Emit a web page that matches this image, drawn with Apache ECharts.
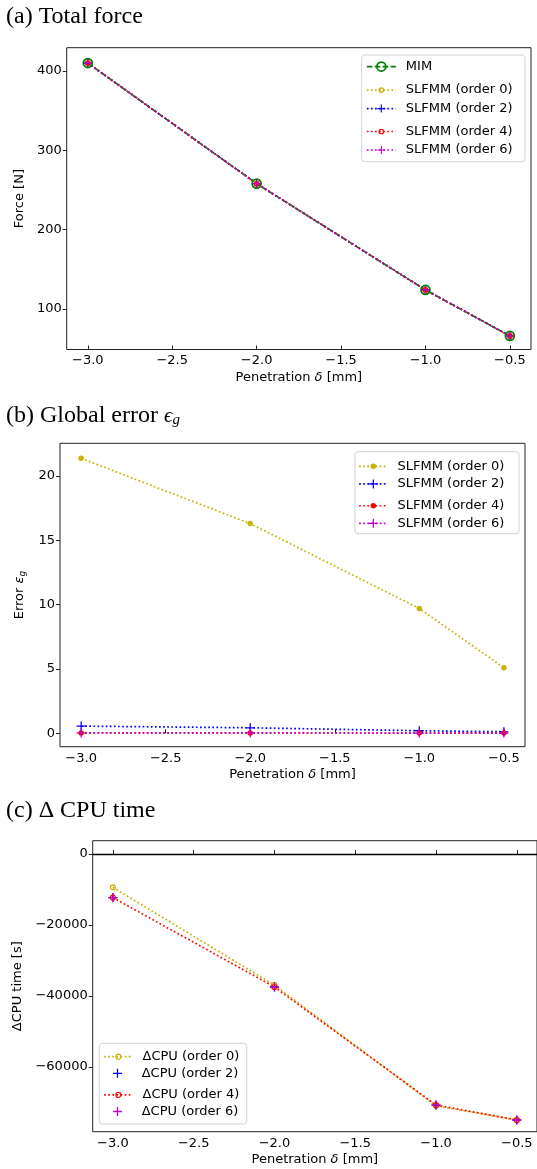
<!DOCTYPE html>
<html><head><meta charset="utf-8">
<script src="https://cdn.jsdelivr.net/npm/echarts@6/dist/echarts.min.js"></script>
<style>html,body{margin:0;padding:0;background:#fff;overflow:hidden}#c{width:537px;height:1169px}</style>
</head><body><div id="c"></div>
<script>
// ---------- data ----------
const penetration = [-3.0, -2.0, -1.0, -0.5];
const xTickValues = [-3.0, -2.5, -2.0, -1.5, -1.0, -0.5];
const forceMIM    = [410, 258, 124, 66];
const forceOrder0 = [410, 258, 124, 66];
const forceOrder2 = [410, 258, 124, 66];
const forceOrder4 = [410, 258, 124, 66];
const forceOrder6 = [410, 258, 124, 66];
const forceTicks  = [100, 200, 300, 400];
const errOrder0 = [21.37, 16.3, 9.7, 5.1];
const errOrder2 = [0.56, 0.43, 0.2, 0.12];
const errOrder4 = [0.03, 0.03, 0.02, 0.02];
const errOrder6 = [0.03, 0.03, 0.02, 0.02];
const errTicks  = [0, 5, 10, 15, 20];
const cpuOrder0 = [-9400, -37000, -71000, -75000];
const cpuOrder2 = [-12300, -37500, -70800, -75000];
const cpuOrder4 = [-12300, -37500, -70800, -75000];
const cpuOrder6 = [-12300, -37500, -70800, -75000];
const cpuTicks  = [0, -20000, -40000, -60000];
const labelsA = ['MIM', 'SLFMM (order 0)', 'SLFMM (order 2)', 'SLFMM (order 4)', 'SLFMM (order 6)'];
const labelsB = ['SLFMM (order 0)', 'SLFMM (order 2)', 'SLFMM (order 4)', 'SLFMM (order 6)'];
const labelsC = ['ΔCPU (order 0)', 'ΔCPU (order 2)', 'ΔCPU (order 4)', 'ΔCPU (order 6)'];

// ---------- styling ----------
const SANS = 'DejaVu Sans';
const SERIF = 'Liberation Serif';
const C_GREEN = '#008000', C_GOLD = '#c8b200', C_BLUE = '#0000ff', C_RED = '#ff0000', C_MAG = '#c000c0';
const PLUS = 'path://M-1,-0.14 L-0.14,-0.14 L-0.14,-1 L0.14,-1 L0.14,-0.14 L1,-0.14 L1,0.14 L0.14,0.14 L0.14,1 L-0.14,1 L-0.14,0.14 L-1,0.14 Z';
const DOT = [1.7, 2.4];
const DASH = [5.5, 2.4];
const LW = 1.7;
const minus = s => String(s).replace('-', '\u2212');
const pairs = (xs, ys) => xs.map((x, i) => [x, ys[i]]);

const grids = [
  {left: 66.7, top: 47.7, width: 464.3, height: 301.8},
  {left: 60, top: 443.3, width: 465, height: 303.4},
  {left: 92.7, top: 840.7, width: 448.8, height: 291}
].map(g => Object.assign({show: true, borderColor: '#222', borderWidth: 1, backgroundColor: 'transparent'}, g));

function xAxisFor(i, nameGap) {
  return {
    type: 'value', gridIndex: i, min: -3.125, max: -0.375,
    name: 'Penetration {d|δ} [mm]', nameLocation: 'middle', nameGap: nameGap,
    nameTextStyle: {fontFamily: SANS, fontSize: 13, color: '#000',
      rich: {d: {fontFamily: SANS, fontStyle: 'italic', fontSize: 13, color: '#000'}}},
    axisLine: {show: false},
    splitLine: {show: false},
    axisTick: {show: true, inside: true, length: 4, lineStyle: {color: '#222'}, customValues: xTickValues},
    axisLabel: {show: true, margin: 5, fontFamily: SANS, fontSize: 13, color: '#000',
      customValues: xTickValues, formatter: v => minus(Number(v).toFixed(1))}
  };
}
function yAxisFor(i, min, max, ticks, name, nameGap, rich) {
  return {
    type: 'value', gridIndex: i, min: min, max: max,
    name: name, nameLocation: 'middle', nameGap: nameGap, nameRotate: 90,
    nameTextStyle: {fontFamily: SANS, fontSize: 13, color: '#000', rich: rich || {}},
    axisLine: {show: false},
    splitLine: {show: false},
    axisTick: {show: true, inside: false, length: 4, lineStyle: {color: '#222'}, customValues: ticks},
    axisLabel: {show: true, margin: 5, fontFamily: SANS, fontSize: 13, color: '#000',
      customValues: ticks, formatter: v => minus(v)}
  };
}

function lineSeries(name, gi, ys, o) {
  return {
    type: 'line', name: name, xAxisIndex: gi, yAxisIndex: gi,
    data: pairs(penetration, ys), symbol: o.symbol, symbolSize: o.size,
    showSymbol: true, animation: false, silent: true, z: o.z || 2,
    lineStyle: {color: o.color, width: o.noLine ? 0 : LW, type: o.dash || 'solid', opacity: o.noLine ? 0 : 1},
    itemStyle: o.hollow
      ? {color: 'rgba(255,255,255,0)', borderColor: o.color, borderWidth: o.bw || 1.2}
      : {color: o.color, borderWidth: 0},
    emphasis: {disabled: true}
  };
}

const series = [
  // panel (a)
  lineSeries(labelsA[0], 0, forceMIM, {color: C_GREEN, dash: DASH, symbol: 'circle', size: 9, hollow: true, bw: 1.7}),
  lineSeries(labelsA[1], 0, forceOrder0, {color: C_GOLD, dash: DOT, symbol: 'circle', size: 4.5, hollow: true}),
  lineSeries(labelsA[2], 0, forceOrder2, {color: C_BLUE, dash: DOT, symbol: PLUS, size: 8}),
  lineSeries(labelsA[3], 0, forceOrder4, {color: C_RED, dash: DOT, symbol: 'circle', size: 4.5, hollow: true}),
  lineSeries(labelsA[4], 0, forceOrder6, {color: C_MAG, dash: DOT, symbol: PLUS, size: 8}),
  // panel (b)
  lineSeries(labelsB[0] + '\u200b', 1, errOrder0, {color: C_GOLD, dash: DOT, symbol: 'circle', size: 5.5}),
  lineSeries(labelsB[1] + '\u200b', 1, errOrder2, {color: C_BLUE, dash: DOT, symbol: PLUS, size: 9}),
  lineSeries(labelsB[2] + '\u200b', 1, errOrder4, {color: C_RED, dash: DOT, symbol: 'circle', size: 5.5}),
  lineSeries(labelsB[3] + '\u200b', 1, errOrder6, {color: C_MAG, dash: DOT, symbol: PLUS, size: 9}),
  // panel (c)
  lineSeries(labelsC[0], 2, cpuOrder0, {color: C_GOLD, dash: DOT, symbol: 'circle', size: 5, hollow: true}),
  lineSeries(labelsC[1], 2, cpuOrder2, {color: C_BLUE, noLine: true, symbol: PLUS, size: 9}),
  lineSeries(labelsC[2], 2, cpuOrder4, {color: C_RED, dash: DOT, symbol: 'circle', size: 5, hollow: true}),
  lineSeries(labelsC[3], 2, cpuOrder6, {color: C_MAG, noLine: true, symbol: PLUS, size: 9})
];
// zero reference line in (c)
series[9].markLine = {silent: true, symbol: 'none', animation: false, label: {show: false},
  lineStyle: {color: '#000', type: 'solid', width: 1.3}, data: [{yAxis: 0}], z: 1};

// one legend component per entry so each icon can have its own marker size
function legendEntry(name, left, yc, iconW, iconH, lineW, borderW) {
  return {
    data: [name], left: left, top: yc - iconH / 2, orient: 'vertical', padding: 0,
    itemWidth: iconW, itemHeight: iconH, selectedMode: false, z: 10,
    textStyle: {fontFamily: SANS, fontSize: 13, color: '#000', padding: [0, 0, 0, 5]},
    lineStyle: {width: lineW},
    itemStyle: {borderWidth: borderW}
  };
}
const legends = [];
const rowsA = [65.7, 86.4, 107.1, 127.8, 148.5];
const iconHA = [11.2, 5.6, 10, 5.6, 10];
const bwA = [1.7, 1.2, 0, 1.2, 0];
labelsA.forEach((n, i) => legends.push(legendEntry(n, 366, rowsA[i], 29, iconHA[i], LW, bwA[i])));
const rowsB = [463.3, 483, 502.7, 522.4];
const iconHB = [6.9, 11.2, 6.9, 11.2];
labelsB.forEach((n, i) => legends.push(legendEntry(n + '\u200b', 358.3, rowsB[i], 28.4, iconHB[i], LW, 0)));
const rowsC = [1053.3, 1072.4, 1091.5, 1110.6];
const iconHC = [6.2, 11.2, 6.2, 11.2];
const lineC = [LW, 0, LW, 0];
const bwC = [1.2, 0, 1.2, 0];
labelsC.forEach((n, i) => legends.push(legendEntry(n, 103.3, rowsC[i], 28.4, iconHC[i], lineC[i], bwC[i])));

const titleStyle = {fontFamily: SERIF, fontSize: 24, fontWeight: 'normal', color: '#000'};
const option = {
  animation: false,
  backgroundColor: '#fff',
  title: [
    {text: '(a) Total force', left: 6, top: 5, padding: 0, textStyle: titleStyle},
    {text: '(b) Global error {e|ϵ}{s|g}', left: 6, top: 404, padding: 0,
      textStyle: Object.assign({}, titleStyle, {rich: {
        e: {fontFamily: SERIF, fontStyle: 'italic', fontSize: 21, color: '#000'},
        s: {fontFamily: SERIF, fontStyle: 'italic', fontSize: 15, color: '#000', verticalAlign: 'bottom', padding: [9, 0, 0, 0]}}})},
    {text: '(c) Δ CPU time', left: 6, top: 799, padding: 0, textStyle: titleStyle}
  ],
  grid: grids,
  xAxis: [xAxisFor(0, 21.5), xAxisFor(1, 21.5), xAxisFor(2, 21.8)],
  yAxis: [
    yAxisFor(0, 48.9, 429.4, forceTicks, 'Force [N]', 33),
    yAxisFor(1, -1.04, 22.54, errTicks, 'Error {e|ε}{s|g}', 25, {
      e: {fontFamily: SANS, fontStyle: 'italic', fontSize: 13, color: '#000'},
      s: {fontFamily: SANS, fontStyle: 'italic', fontSize: 9, color: '#000', verticalAlign: 'bottom', padding: [6, 0, 0, 0]}}),
    yAxisFor(2, -78300, 3750, cpuTicks, 'ΔCPU time [s]', 57)
  ],
  legend: legends,
  graphic: [
    {type: 'rect', shape: {x: 361.7, y: 55, width: 163.3, height: 106.7, r: 3}, z: 5,
      style: {fill: 'rgba(255,255,255,0.8)', stroke: '#d3d3d3', lineWidth: 1}},
    {type: 'rect', shape: {x: 355, y: 451.7, width: 164, height: 82, r: 3}, z: 5,
      style: {fill: 'rgba(255,255,255,0.8)', stroke: '#d3d3d3', lineWidth: 1}},
    {type: 'rect', shape: {x: 99.3, y: 1043.3, width: 147.4, height: 80.7, r: 3}, z: 5,
      style: {fill: 'rgba(255,255,255,0.8)', stroke: '#d3d3d3', lineWidth: 1}}
  ],
  series: series
};
const chart = echarts.init(document.getElementById('c'), null, {renderer: 'canvas', width: 537, height: 1169});
chart.setOption(option);
</script>
</body></html>
